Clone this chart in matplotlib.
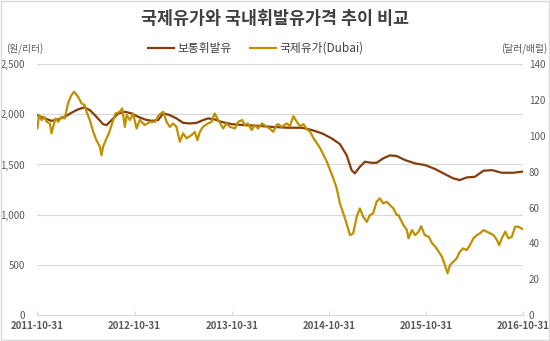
import numpy as np
import pandas as pd
import matplotlib
matplotlib.use('Agg')
import matplotlib.pyplot as plt
import matplotlib.dates as mdates
from matplotlib.patches import Rectangle
from matplotlib.ticker import FuncFormatter

plt.rcParams['font.family'] = ['Noto Sans CJK KR', 'DejaVu Sans']

# =====================================================
# Data
# =====================================================

# 보통휘발유 (원/리터), left axis
gas_dates = [
    '2011-10-31', '2011-11-28', '2011-12-23', '2012-01-17', '2012-02-11',
    '2012-03-07', '2012-04-01', '2012-04-24', '2012-05-15', '2012-06-09',
    '2012-07-04', '2012-07-17', '2012-08-05', '2012-08-30', '2012-09-24',
    '2012-10-19', '2012-11-13', '2012-12-08', '2013-01-02', '2013-01-27',
    '2013-02-15', '2013-03-12', '2013-04-06', '2013-05-01', '2013-05-26',
    '2013-06-21', '2013-07-15', '2013-08-03', '2013-08-28', '2013-09-22',
    '2013-10-30', '2013-12-19', '2014-02-07', '2014-03-30', '2014-06-01',
    '2014-07-22', '2014-08-29', '2014-10-06', '2014-11-11', '2014-12-12',
    '2015-01-06', '2015-01-25', '2015-02-06', '2015-02-25', '2015-03-16',
    '2015-04-10', '2015-04-29', '2015-05-24', '2015-06-18', '2015-07-14',
    '2015-08-14', '2015-09-21', '2015-10-29', '2015-12-06', '2016-01-11',
    '2016-02-11', '2016-03-07', '2016-04-02', '2016-05-03', '2016-06-04',
    '2016-07-06', '2016-08-12', '2016-09-25', '2016-10-31',
]
gas_price = [
    1990, 1959, 1935, 1949, 1975,
    2015, 2049, 2069, 2042, 1975,
    1902, 1892, 1942, 2009, 2025,
    2009, 1975, 1949, 1935, 1942,
    2009, 1992, 1959, 1915, 1909,
    1915, 1942, 1959, 1949, 1925,
    1902, 1892, 1885, 1875, 1866,
    1866, 1843, 1810, 1760, 1703,
    1594, 1444, 1411, 1477, 1527,
    1517, 1517, 1561, 1591, 1584,
    1544, 1511, 1494, 1454, 1404,
    1362, 1345, 1371, 1378, 1438,
    1444, 1418, 1418, 1430,
]

# 국제유가 Dubai (달러/배럴), right axis
oil_dates = [
    '2011-10-31', '2011-11-06', '2011-11-16', '2011-11-26', '2011-12-05',
    '2011-12-17', '2011-12-23', '2012-01-02', '2012-01-07', '2012-01-17',
    '2012-01-30', '2012-02-11', '2012-02-23', '2012-03-07', '2012-03-17',
    '2012-04-01', '2012-04-14', '2012-04-26', '2012-05-03', '2012-05-15',
    '2012-05-28', '2012-06-09', '2012-06-22', '2012-06-28', '2012-07-04',
    '2012-07-17', '2012-07-26', '2012-08-07', '2012-08-20', '2012-09-05',
    '2012-09-14', '2012-09-24', '2012-10-01', '2012-10-13', '2012-10-25',
    '2012-11-07', '2012-11-19', '2012-12-08', '2012-12-27', '2013-01-15',
    '2013-01-30', '2013-02-15', '2013-02-28', '2013-03-12', '2013-03-25',
    '2013-04-06', '2013-04-19', '2013-05-01', '2013-05-14', '2013-06-02',
    '2013-06-14', '2013-06-24', '2013-07-03', '2013-07-15', '2013-08-03',
    '2013-08-16', '2013-08-28', '2013-09-10', '2013-09-29', '2013-10-11',
    '2013-10-24', '2013-11-12', '2013-11-24', '2013-12-09', '2013-12-19',
    '2013-12-31', '2014-01-14', '2014-01-26', '2014-02-07', '2014-02-22',
    '2014-03-11', '2014-03-23', '2014-04-05', '2014-04-18', '2014-04-24',
    '2014-05-07', '2014-05-26', '2014-06-07', '2014-06-20', '2014-07-03',
    '2014-07-15', '2014-07-28', '2014-08-10', '2014-08-22', '2014-09-04',
    '2014-09-17', '2014-09-29', '2014-10-12', '2014-10-24', '2014-11-05',
    '2014-11-17', '2014-11-30', '2014-12-12', '2014-12-25', '2015-01-06',
    '2015-01-19', '2015-01-31', '2015-02-13', '2015-02-25', '2015-03-10',
    '2015-03-23', '2015-04-04', '2015-04-16', '2015-04-29', '2015-05-11',
    '2015-05-24', '2015-06-06', '2015-06-18', '2015-07-01', '2015-07-14',
    '2015-07-20', '2015-08-08', '2015-08-21', '2015-08-27', '2015-09-09',
    '2015-09-21', '2015-10-04', '2015-10-14', '2015-10-27', '2015-11-11',
    '2015-11-24', '2015-12-06', '2015-12-19', '2015-12-31', '2016-01-11',
    '2016-01-21', '2016-01-30', '2016-02-11', '2016-02-24', '2016-03-07',
    '2016-03-20', '2016-04-02', '2016-04-14', '2016-04-27', '2016-05-10',
    '2016-05-22', '2016-06-04', '2016-06-17', '2016-06-29', '2016-07-12',
    '2016-07-25', '2016-08-02', '2016-08-12', '2016-08-25', '2016-09-06',
    '2016-09-19', '2016-10-01', '2016-10-14', '2016-10-31',
]
oil_price = [
    104.1, 111.6, 108.8, 110.6, 107.8,
    106.9, 101.4, 106.9, 109.7, 107.8,
    110.6, 109.7, 118.1, 122.7, 124.6,
    121.8, 118.1, 117.1, 113.4, 108.8,
    102.2, 97.6, 93.9, 89.2, 93.9,
    98.6, 101.4, 106.9, 112.5, 113.4,
    115.3, 105.0, 111.6, 108.8, 112.5,
    104.1, 108.8, 106.0, 107.8, 107.8,
    111.6, 113.4, 107.8, 105.0, 106.9,
    105.0, 96.7, 101.4, 98.6, 100.4,
    102.2, 97.6, 102.2, 105.0, 106.9,
    107.8, 112.5, 108.8, 104.1, 106.9,
    105.0, 104.1, 107.8, 108.8, 106.0,
    106.9, 103.2, 106.0, 104.1, 106.9,
    105.0, 104.1, 102.2, 106.0, 106.5,
    105.0, 106.9, 105.4, 111.0, 107.8,
    105.4, 106.5, 103.6, 102.2, 98.6,
    95.8, 93.0, 89.2, 85.5, 80.9,
    76.3, 70.7, 62.3, 56.7, 51.1,
    44.6, 45.6, 54.8, 59.5, 54.8,
    52.0, 55.8, 56.7, 63.2, 65.1,
    62.3, 63.2, 61.4, 59.5, 55.8,
    55.8, 50.2, 47.4, 42.8, 47.4,
    44.6, 46.5, 49.6, 44.6, 43.7,
    40.0, 38.1, 35.3, 32.5, 27.9,
    23.3, 27.9, 29.7, 31.6, 35.3,
    37.2, 36.3, 39.0, 42.8, 44.6,
    45.6, 47.4, 46.5, 45.6, 44.6,
    41.8, 39.0, 42.8, 46.5, 42.8,
    43.7, 49.3, 49.3, 47.8,
]

x_ticks = ['2011-10-31', '2012-10-31', '2013-10-31',
           '2014-10-31', '2015-10-31', '2016-10-31']

gas_dates = pd.to_datetime(gas_dates)
oil_dates = pd.to_datetime(oil_dates)
x_ticks = pd.to_datetime(x_ticks)

# =====================================================
# Plot
# =====================================================

fig = plt.figure(figsize=(5.5, 3.41), dpi=100)
fig.patches.append(Rectangle((0.001, 0.002), 0.997, 0.995, transform=fig.transFigure,
                             fill=False, edgecolor='#d9d9d9', linewidth=1))

ax = fig.add_axes([0.068, 0.076, 0.883, 0.736])
ax2 = ax.twinx()

brown = '#843c0c'
gold = '#bf9000'
grid_c = '#d9d9d9'
tick_c = '#595959'

l1, = ax.plot(gas_dates, gas_price, color=brown, linewidth=1.6, label='보통휘발유')
l2, = ax2.plot(oil_dates, oil_price, color=gold, linewidth=1.6, label='국제유가(Dubai)')

ax.set_xlim(x_ticks[0], x_ticks[-1])
ax.set_ylim(0, 2500)
ax2.set_ylim(0, 140)
ax.set_yticks(np.arange(0, 2501, 500))
ax2.set_yticks(np.arange(0, 141, 20))
ax.yaxis.set_major_formatter(FuncFormatter(lambda v, p: f'{int(v):,}'))

ax.set_xticks(x_ticks)
ax.xaxis.set_major_formatter(mdates.DateFormatter('%Y-%m-%d'))

ax.grid(axis='y', color=grid_c, linewidth=0.8)
ax.set_axisbelow(True)

for a in (ax, ax2):
    for s in ['top', 'left', 'right']:
        a.spines[s].set_visible(False)
ax2.spines['bottom'].set_visible(False)
ax.spines['bottom'].set_color(grid_c)

ax.tick_params(axis='y', length=0, labelsize=7, labelcolor=tick_c, pad=9)
ax2.tick_params(axis='y', length=0, labelsize=7, labelcolor=tick_c, pad=4)
ax.tick_params(axis='x', direction='in', length=3, color=grid_c,
               labelsize=7, labelcolor=tick_c, pad=4)
for t in ax.get_xticklabels():
    t.set_fontweight('bold')

fig.text(0.5, 0.945, '국제유가와 국내휘발유가격 추이 비교', ha='center', va='center',
         fontsize=12.5, fontweight='bold', color='#404040')
fig.text(0.012, 0.855, '(원/리터)', ha='left', va='center', fontsize=7, color=tick_c)
fig.text(0.995, 0.855, '(달러/배럴)', ha='right', va='center', fontsize=7, color=tick_c)

fig.legend(handles=[l1, l2], loc='center', bbox_to_anchor=(0.465, 0.858), ncol=2,
           frameon=False, fontsize=8.5, handlelength=2.2, handletextpad=0.3,
           columnspacing=1.5, labelcolor='#404040')

plt.savefig('out.png', dpi=100)
